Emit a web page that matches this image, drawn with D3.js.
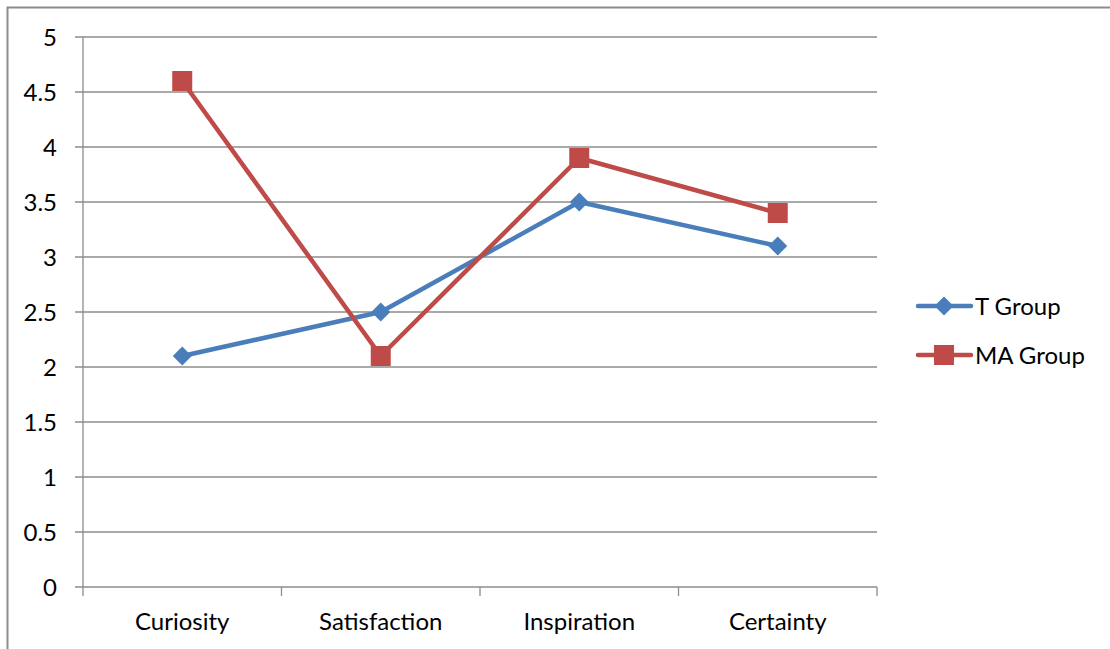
<!DOCTYPE html>
<html>
<head>
<meta charset="utf-8">
<script src="https://cdn.jsdelivr.net/npm/d3@7/dist/d3.min.js"></script>
<style>
  html, body { margin: 0; padding: 0; background: #fff; }
  svg { display: block; }
  text { font-family: Lato, "Open Sans", sans-serif; fill: #000; }
</style>
</head>
<body>
<svg id="chart" width="1110" height="649"></svg>
<script>
// Chart data
const categories = ["Curiosity", "Satisfaction", "Inspiration", "Certainty"];
const tGroup = [2.1, 2.5, 3.5, 3.1];
const maGroup = [4.6, 2.1, 3.9, 3.4];
const yTicks = [0, 0.5, 1, 1.5, 2, 2.5, 3, 3.5, 4, 4.5, 5];
const seriesNames = ["T Group", "MA Group"];
const seriesColors = ["#4a7ebb", "#be4b48"];

const svg = d3.select("#chart");
const fontSize = 24;

// Outer chart frame
svg.append("rect")
  .attr("x", 7.5).attr("y", 7.5)
  .attr("width", 1120).attr("height", 660)
  .attr("fill", "none").attr("stroke", "#8c8c8c").attr("stroke-width", 2);

const plot = { left: 83, right: 877, top: 37, bottom: 587 };

const x = d3.scaleBand().domain(categories).range([plot.left, plot.right]);
const y = d3.scaleLinear().domain([0, 5]).range([plot.bottom, plot.top]);

// Horizontal gridlines
svg.append("g").selectAll("line").data(yTicks).join("line")
  .attr("x1", plot.left - 8).attr("x2", plot.right)
  .attr("y1", d => y(d)).attr("y2", d => y(d))
  .attr("stroke", "#8c8c8c").attr("stroke-width", 1.3);

// Y axis line
svg.append("line")
  .attr("x1", plot.left).attr("x2", plot.left)
  .attr("y1", plot.top).attr("y2", plot.bottom)
  .attr("stroke", "#8c8c8c").attr("stroke-width", 1.3);

// Y tick labels
svg.append("g").selectAll("text").data(yTicks).join("text")
  .attr("x", 57).attr("y", d => y(d))
  .attr("dy", "0.36em")
  .attr("text-anchor", "end")
  .attr("font-size", fontSize)
  .text(d => d);

// X tick marks at band boundaries
const boundaries = categories.map(c => x(c)).concat([x(categories[categories.length - 1]) + x.bandwidth()]);
svg.append("g").selectAll("line").data(boundaries).join("line")
  .attr("x1", d => d).attr("x2", d => d)
  .attr("y1", plot.bottom).attr("y2", plot.bottom + 9)
  .attr("stroke", "#8c8c8c").attr("stroke-width", 1.3);

// Category labels
svg.append("g").selectAll("text").data(categories).join("text")
  .attr("x", d => x(d) + x.bandwidth() / 2)
  .attr("y", 621)
  .attr("dy", "0.36em")
  .attr("text-anchor", "middle")
  .attr("font-size", fontSize)
  .text(d => d);

const cx = (d, i) => x(categories[i]) + x.bandwidth() / 2;
const line = d3.line().x((d, i) => cx(d, i)).y(d => y(d));

function drawMarker(g, px, py, kind, color) {
  if (kind === "diamond") {
    const s = 9.5;
    g.append("path")
      .attr("d", `M${px},${py - s}L${px + s},${py}L${px},${py + s}L${px - s},${py}Z`)
      .attr("fill", color);
  } else {
    g.append("rect")
      .attr("x", px - 10).attr("y", py - 10)
      .attr("width", 20).attr("height", 20)
      .attr("fill", color);
  }
}

// Series lines and markers
[[tGroup, "diamond"], [maGroup, "square"]].forEach(([vals, kind], k) => {
  const g = svg.append("g");
  g.append("path")
    .datum(vals)
    .attr("d", line)
    .attr("fill", "none")
    .attr("stroke", seriesColors[k])
    .attr("stroke-width", 4.5)
    .attr("stroke-linejoin", "round");
  vals.forEach((v, i) => drawMarker(g, cx(v, i), y(v), kind, seriesColors[k]));
});

// Legend
const legendY = [306, 355];
seriesNames.forEach((name, k) => {
  const g = svg.append("g");
  g.append("line")
    .attr("x1", 918).attr("x2", 971)
    .attr("y1", legendY[k]).attr("y2", legendY[k])
    .attr("stroke", seriesColors[k]).attr("stroke-width", 4.5)
    .attr("stroke-linecap", "round");
  drawMarker(g, 944, legendY[k], k === 0 ? "diamond" : "square", seriesColors[k]);
  g.append("text")
    .attr("x", 975).attr("y", legendY[k])
    .attr("dy", "0.36em")
    .attr("font-size", fontSize)
    .text(name);
});
</script>
</body>
</html>
